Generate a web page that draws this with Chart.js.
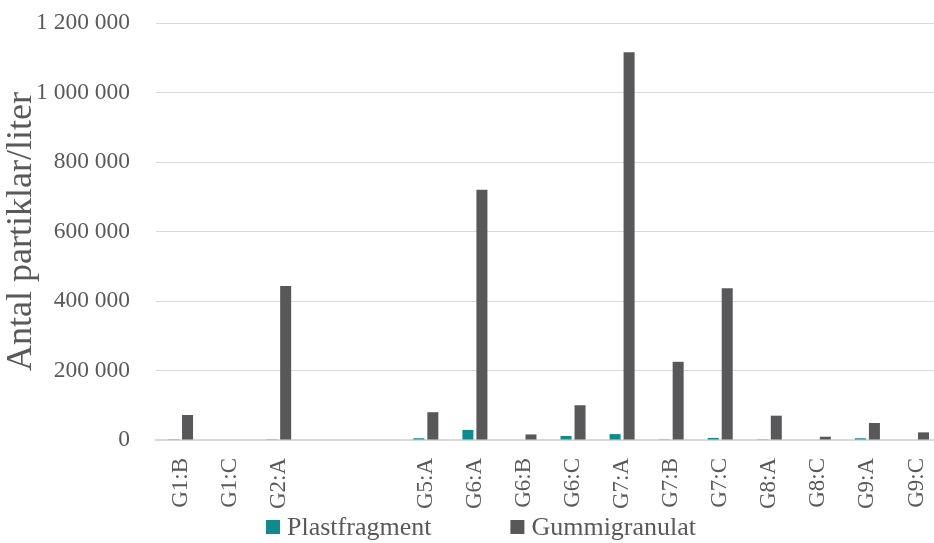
<!DOCTYPE html>
<html>
<head>
<meta charset="utf-8">
<script src="https://cdn.jsdelivr.net/npm/chart.js@4.4.0/dist/chart.umd.min.js"></script>
<style>
  html, body { margin: 0; padding: 0; background: #fff; overflow: hidden; }
  #wrap { width: 941px; height: 543px; }
</style>
</head>
<body>
<div id="wrap"><canvas id="partChart" width="941" height="543"></canvas></div>
<script>
// sample labels (two unnamed slots between G2:A and G5:A)
const categories = ['G1:B', 'G1:C', 'G2:A', '', '', 'G5:A', 'G6:A', 'G6:B', 'G6:C', 'G7:A', 'G7:B', 'G7:C', 'G8:A', 'G8:C', 'G9:A', 'G9:C'];
const plastfragment = [800, 0, 800, null, null, 5000, 29000, 0, 11500, 17000, 2000, 6000, 2000, 0, 5000, 0];
const gummigranulat = [72000, 0, 443000, null, null, 80000, 720000, 16000, 100000, 1116000, 225000, 437000, 70000, 9500, 49000, 22000];
const seriesNames = ['Plastfragment', 'Gummigranulat'];
const yTicks = [0, 200000, 400000, 600000, 800000, 1000000, 1200000];

const FONT = '"Liberation Serif", "DejaVu Serif", serif';
const TEXT = '#595959';
const colors = ['#0F8B8D', '#58585B'];

// space as thousand separator, like the original
function fmt(v) {
    return String(v).replace(/\B(?=(\d{3})+(?!\d))/g, ' ');
}

// no extra padding from the scales, the plot area is fixed by hand
function noPad(scale) {
    scale.paddingTop = 0;
    scale.paddingBottom = 0;
    scale.paddingLeft = 0;
    scale.paddingRight = 0;
}

// legend drawn by hand so the wide gap between the two items can be kept
const bottomLegend = {
    id: 'bottomLegend',
    afterDraw(chart) {
        const ctx = chart.ctx;
        const sets = chart.data.datasets;
        const box = 14, gap = 7, spacing = 79;
        ctx.save();
        ctx.font = '26px ' + FONT;
        ctx.textBaseline = 'middle';
        let x = 266;
        const y = 527;
        sets.forEach(ds => {
            ctx.fillStyle = ds.backgroundColor;
            ctx.fillRect(x, y - box / 2, box, box);
            ctx.fillStyle = TEXT;
            ctx.fillText(ds.label, x + box + gap, y + 1);
            x += box + gap + ctx.measureText(ds.label).width + spacing;
        });
        ctx.restore();
    }
};

const chart = new Chart(document.getElementById('partChart').getContext('2d'), {
    type: 'bar',
    data: {
        labels: categories,
        datasets: [
            { label: seriesNames[0], data: plastfragment, backgroundColor: colors[0] },
            { label: seriesNames[1], data: gummigranulat, backgroundColor: colors[1] }
        ]
    },
    options: {
        responsive: false,
        animation: false,
        categoryPercentage: 0.571,
        barPercentage: 0.786,
        layout: { padding: { top: 23, right: 0, bottom: 25, left: 0 } },
        plugins: {
            legend: { display: false },
            tooltip: { enabled: false }
        },
        scales: {
            x: {
                grid: { display: false, drawTicks: false },
                border: { display: true, color: '#D9D9D9', width: 2 },
                ticks: {
                    color: TEXT,
                    font: { family: FONT, size: 23 },
                    minRotation: 90,
                    maxRotation: 90,
                    padding: 18,
                    autoSkip: false
                },
                afterFit(scale) { scale.height = 78; noPad(scale); }
            },
            y: {
                min: 0,
                max: 1200000,
                afterBuildTicks(scale) { scale.ticks = yTicks.map(v => ({ value: v })); },
                grid: { color: '#D9D9D9', lineWidth: 1, drawTicks: false },
                border: { display: false },
                ticks: {
                    color: TEXT,
                    font: { family: FONT, size: 23.5 },
                    padding: 26,
                    callback: v => fmt(v)
                },
                title: {
                    display: true,
                    text: 'Antal partiklar/liter',
                    color: TEXT,
                    font: { family: FONT, size: 36 },
                    padding: { top: 0, bottom: 0 }
                },
                afterFit(scale) { scale.width = 156; noPad(scale); }
            }
        }
    },
    plugins: [bottomLegend]
});
</script>
</body>
</html>
